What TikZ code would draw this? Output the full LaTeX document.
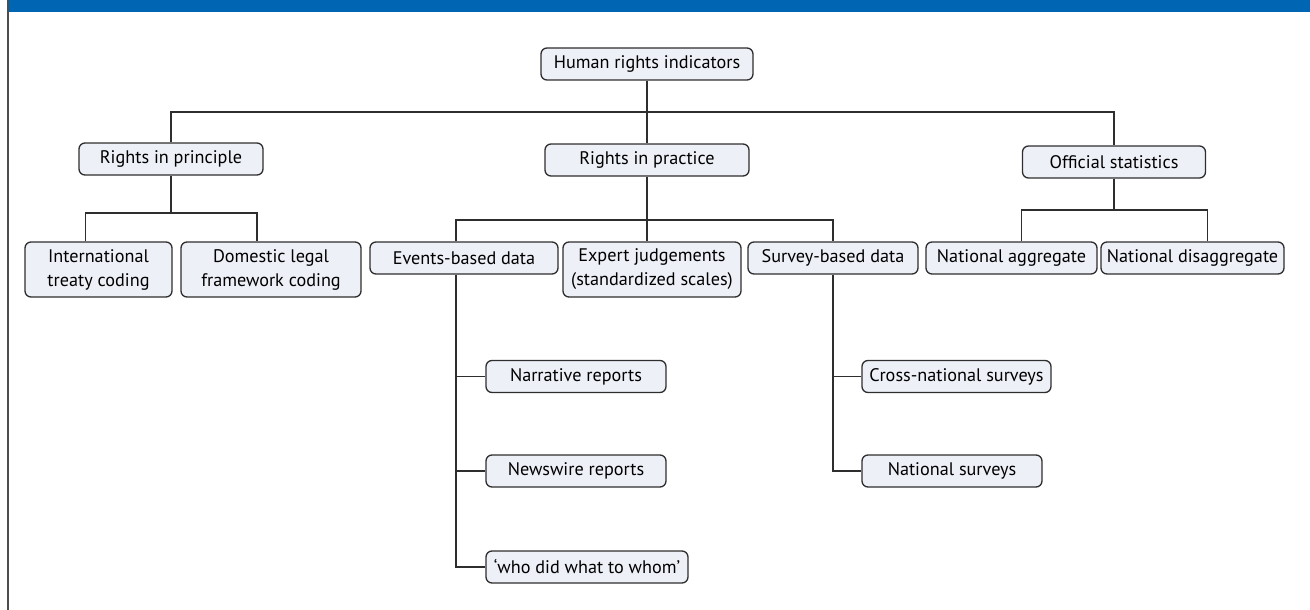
\documentclass[tikz,border=0pt]{standalone}
\usepackage{fontspec}
\setmainfont{PT Sans}
\usepackage{tikz}
\usetikzlibrary{positioning,calc}
\definecolor{Banner}{HTML}{0066B3}
\definecolor{Edge}{HTML}{2E2E2E}
\definecolor{Frame}{HTML}{4D4D4D}
\definecolor{SoftLilac}{HTML}{EEF0F8}

\begin{document}
\begin{tikzpicture}[
  x=1pt,y=-1pt,
  box/.style={rounded corners=6pt,draw=Edge,fill=SoftLilac,line width=1.3pt,minimum height=32pt,inner sep=0pt,align=center,font=\fontsize{18.2}{24}\selectfont},
  link/.style={draw=Edge,line width=1.5pt}
]
\useasboundingbox (0,0) rectangle (1310,610);
\fill[Banner] (9,0) rectangle (1310,12);
\draw[Frame,line width=2.5pt] (8,0) -- (8,610);
\node[box,minimum width=212pt] (root) at (647,64) {Human rights indicators};
\node[box,minimum width=184pt] (prin) at (171,159) {Rights in principle};
\node[box,minimum width=204pt] (prac) at (647,160) {Rights in practice};
\node[box,minimum width=183pt] (offi) at (1114,162) {Official statistics};
\node[box,minimum width=147pt,minimum height=55pt] (intl) at (98.5,269.5) {International\\treaty coding};
\node[box,minimum width=180pt,minimum height=55pt] (dome) at (271,269.5) {Domestic legal\\framework coding};
\node[box,minimum width=188pt] (even) at (464,258) {Events-based data};
\node[box,minimum width=178pt,minimum height=55pt] (expe) at (652,269.5) {Expert judgements\\(standardized scales)};
\node[box,minimum width=170pt] (surv) at (833,258) {Survey-based data};
\node[box,minimum width=171pt] (nagg) at (1011.5,258) {National aggregate};
\node[box,minimum width=183pt] (ndis) at (1192.5,258) {National disaggregate};
\node[box,minimum width=180pt] (narr) at (576,376.5) {Narrative reports};
\node[box,minimum width=180pt] (news) at (576,471) {Newswire reports};
\node[box,minimum width=202pt] (whom) at (587,567) {`who did what to whom'};
\node[box,minimum width=189pt] (cros) at (956.5,376.5) {Cross-national surveys};
\node[box,minimum width=180pt] (nsur) at (952,471) {National surveys};
\coordinate (topbar) at (0,112);
\coordinate (prinbar) at (0,213);
\coordinate (pracbar) at (0,220);
\coordinate (offibar) at (0,210);
\draw[link] (root.south) -- (prac.north);
\draw[link] (prin.north) |- (topbar -| offi.north) -- (offi.north);
\draw[link] (prin.south) -- (prin.south |- prinbar);
\draw[link] ([xshift=-13pt]intl.north) |- ([xshift=-14pt]dome.north |- prinbar) -- ([xshift=-14pt]dome.north);
\draw[link] (prac.south) -- (prac.south |- expe.north);
\draw[link] ([xshift=-8pt]even.north) |- (pracbar -| surv.north) -- (surv.north);
\draw[link] (offi.south) -- (offi.south |- offibar);
\draw[link] ([xshift=10pt]nagg.north) |- ([xshift=15pt]ndis.north |- offibar) -- ([xshift=15pt]ndis.north);
\draw[link] ([xshift=-8pt]even.south) |- (whom.west);
\draw[link] ([xshift=-8pt]even.south |- narr.west) -- (narr.west);
\draw[link] ([xshift=-8pt]even.south |- news.west) -- (news.west);
\draw[link] (surv.south) |- (nsur.west);
\draw[link] (surv.south |- cros.west) -- (cros.west);
\end{tikzpicture}
\end{document}
